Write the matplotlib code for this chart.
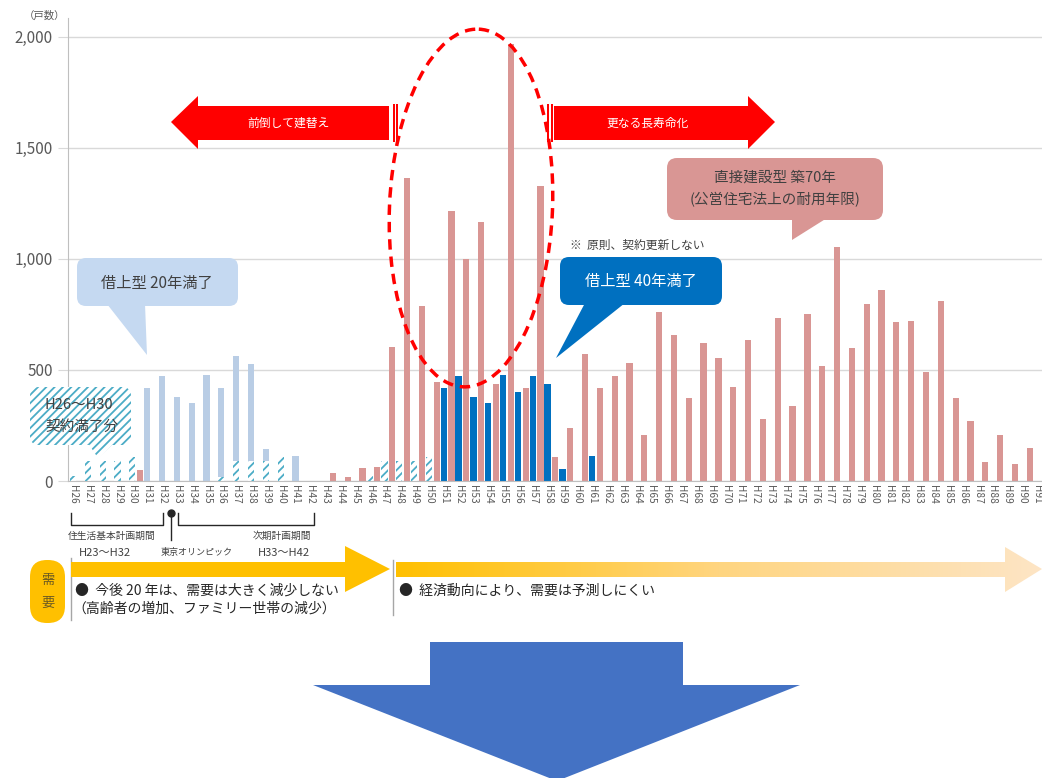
# -*- coding: utf-8 -*-
"""
Recreate the housing renewal chart (戸数 by year, H26-H91).
"""

import numpy as np
import matplotlib.pyplot as plt
from matplotlib.patches import Polygon, FancyBboxPatch, Ellipse, Rectangle
from matplotlib.colors import LinearSegmentedColormap

plt.rcParams['font.family'] = ['Noto Sans CJK JP', 'DejaVu Sans']
plt.rcParams['hatch.linewidth'] = 1.3

# ---- data (H26 .. H91) ----
years = ["H%d" % n for n in range(26, 92)]

# 契約満了分 (hatched)
expired = [22, 90, 90, 90, 108, 0, 0, 0, 0, 0,          # H26-H35
           20, 90, 90, 90, 108, 0, 0, 0, 0, 0,          # H36-H45
           22, 90, 90, 90, 108, 0, 0, 0, 0, 0,          # H46-H55
           0, 0, 0, 0, 0, 0, 0, 0, 0, 0,                # H56-H65
           0, 0, 0, 0, 0, 0, 0, 0, 0, 0,                # H66-H75
           0, 0, 0, 0, 0, 0, 0, 0, 0, 0,                # H76-H85
           0, 0, 0, 0, 0, 0]                            # H86-H91

# 借上型 20年満了 (light blue, on top of hatched)
lease20 = [0, 0, 0, 0, 0, 420, 475, 380, 352, 478,
           400, 475, 437, 54, 0, 113, 0, 0, 0, 0,
           0, 0, 0, 0, 0, 0, 0, 0, 0, 0,
           0, 0, 0, 0, 0, 0, 0, 0, 0, 0,
           0, 0, 0, 0, 0, 0, 0, 0, 0, 0,
           0, 0, 0, 0, 0, 0, 0, 0, 0, 0,
           0, 0, 0, 0, 0, 0]

# 借上型 40年満了 (dark blue)
lease40 = [0, 0, 0, 0, 0, 0, 0, 0, 0, 0,
           0, 0, 0, 0, 0, 0, 0, 0, 0, 0,
           0, 0, 0, 0, 0, 420, 475, 380, 352, 478,
           400, 475, 437, 52, 0, 113, 0, 0, 0, 0,
           0, 0, 0, 0, 0, 0, 0, 0, 0, 0,
           0, 0, 0, 0, 0, 0, 0, 0, 0, 0,
           0, 0, 0, 0, 0, 0]

# 直接建設型 築70年 (pink)
direct = [0, 0, 0, 0, 50, 0, 0, 0, 0, 0,
          0, 0, 0, 0, 0, 0, 0, 36, 18, 58,
          63, 604, 1363, 786, 447, 1217, 1000, 1167, 437, 1966,
          419, 1330, 107, 239, 572, 419, 473, 533, 205, 761,
          656, 376, 621, 554, 423, 633, 279, 732, 336, 752,
          518, 1054, 599, 797, 858, 716, 721, 491, 810, 372,
          270, 86, 205, 75, 149, 0]

yticks = [0, 500, 1000, 1500, 2000]
ytick_labels = ["0", "500", "1,000", "1,500", "2,000"]

W, H = 1042, 778
fig = plt.figure(figsize=(W / 100, H / 100), dpi=100)

# ---- bar chart ----
ax = fig.add_axes([68 / W, (H - 481) / H, 974 / W, 463 / H])
x = np.arange(len(years))
bw = 0.42
ax.bar(x - 0.25, expired, bw, color="white", edgecolor="#4BACC6",
       hatch="////", linewidth=0, zorder=2)
ax.bar(x - 0.25, lease20, bw, bottom=expired, color="#B9CDE5", zorder=2)
ax.bar(x - 0.25, lease40, bw, color="#0070C0", zorder=2)
ax.bar(x + 0.27, direct, bw, color="#D99694", zorder=2)

ax.set_xlim(-0.59, 65.09)
ax.set_ylim(0, 2085)
ax.set_xticks(x - 0.25, years, rotation=270, fontsize=7.3, color="#595959")
ax.tick_params(axis="x", length=0, pad=3)
ax.set_yticks(yticks, ytick_labels)
ax.tick_params(axis="y", length=7, color="#D9D9D9", labelsize=11,
               labelcolor="#595959", pad=4)
ax.grid(axis="y", color="#D9D9D9", lw=1)
ax.set_axisbelow(True)
for s in ["top", "right"]:
    ax.spines[s].set_visible(False)
ax.spines["left"].set_color("#BFBFBF")
ax.spines["bottom"].set_color("#BFBFBF")
ax.patch.set_alpha(0)

# ---- overlay in pixel coordinates ----
ov = fig.add_axes([0, 0, 1, 1], zorder=5)
ov.patch.set_alpha(0)
ov.axis("off")


def poly(pts, color, z=3):
    p = Polygon(pts, closed=True, fc=color, ec="none", zorder=z)
    ov.add_patch(p)
    return p


def rbox(x0, y0, x1, y1, r, **kw):
    b = FancyBboxPatch((x0, y0), x1 - x0, y1 - y0,
                       boxstyle="round,pad=0,rounding_size=%g" % r, **kw)
    ov.add_patch(b)
    return b


ov.text(45, 16, "（戸数）", fontsize=7.5, color="#595959", ha="center", va="center")

# red arrows
red = "#FF0000"
poly([(171, 122), (198, 96), (198, 106), (389, 106), (389, 140),
      (198, 140), (198, 149)], red)
ov.add_patch(Rectangle((392.5, 104), 2, 38, fc=red, ec="none", zorder=3))
ov.add_patch(Rectangle((396, 104), 2, 38, fc=red, ec="none", zorder=3))
ov.text(288, 123, "前倒して建替え", fontsize=8.5, color="white",
        ha="center", va="center", zorder=4)

ov.add_patch(Rectangle((547, 104), 2, 38, fc=red, ec="none", zorder=3))
ov.add_patch(Rectangle((550.5, 104), 2, 38, fc=red, ec="none", zorder=3))
poly([(554, 106), (748, 106), (748, 96), (775, 122), (748, 149),
      (748, 140), (554, 140)], red)
ov.text(648, 123, "更なる長寿命化", fontsize=8.5, color="white",
        ha="center", va="center", zorder=4)

# dashed ellipse
ov.add_patch(Ellipse((471, 208), 163, 358, angle=2.5, fill=False, ec=red,
                     lw=2.5, ls=(0, (3, 2)), zorder=6))

# callout: 借上型 20年満了
lb = "#C5D9F1"
rbox(77, 258, 238, 306, 9, fc=lb, ec="none", zorder=3)
poly([(107, 304), (145, 304), (147, 355)], lb)
ov.text(157, 283, "借上型 20年満了", fontsize=11, color="#404040",
        ha="center", va="center", zorder=4)

# callout: hatched H26~H30
rbox(30, 387, 131, 445, 9, fc="white", ec="#4BACC6", hatch="////",
     lw=0, zorder=3)
ov.add_patch(Polygon([(88, 443), (114, 443), (98, 458)], closed=True,
                     fc="white", ec="#4BACC6", hatch="////", lw=0, zorder=3))
ov.text(45, 405, "H26～H30", fontsize=10.5, color="#404040",
        ha="left", va="center", zorder=4)
ov.text(45, 427, "契約満了分", fontsize=10.5, color="#404040",
        ha="left", va="center", zorder=4)

# callout: 借上型 40年満了
db = "#0070C0"
ov.text(570, 245, "※  原則、契約更新しない", fontsize=8.5, color="#404040",
        ha="left", va="center", zorder=4)
rbox(560, 257, 722, 305, 9, fc=db, ec="none", zorder=3)
poly([(585, 303), (625, 303), (556, 358)], db)
ov.text(641, 281, "借上型 40年満了", fontsize=11, color="white",
        ha="center", va="center", zorder=4)

# callout: 直接建設型
pk = "#D99694"
rbox(667, 158, 883, 220, 10, fc=pk, ec="none", zorder=3)
poly([(792, 218), (827, 218), (792, 240)], pk)
ov.text(775, 178, "直接建設型 築70年", fontsize=10.5, color="#404040",
        ha="center", va="center", zorder=4)
ov.text(775, 200, "(公営住宅法上の耐用年限)", fontsize=10.5, color="#404040",
        ha="center", va="center", zorder=4)

# brackets under the axis
blk = "#262626"
ov.plot([71, 71, 163, 163], [513, 525, 525, 513], color=blk, lw=1)
ov.plot([178, 178, 314, 314], [513, 525, 525, 513], color=blk, lw=1)
ov.plot([171, 171], [513, 540], color=blk, lw=1)
ov.plot([171], [513], "o", color=blk, ms=5)
ov.text(112, 536, "住生活基本計画期間", fontsize=7, color="#404040",
        ha="center", va="center")
ov.text(105, 553, "H23～H32", fontsize=8, color="#404040",
        ha="center", va="center")
ov.text(197, 552, "東京オリンピック", fontsize=6.5, color="#404040",
        ha="center", va="center")
ov.text(282, 536, "次期計画期間", fontsize=7, color="#404040",
        ha="center", va="center")
ov.text(284, 553, "H33～H42", fontsize=8, color="#404040",
        ha="center", va="center")

# demand arrows
ov.plot([71, 71], [558, 620], color="#A6A6A6", lw=1)
ov.plot([393, 393], [560, 615], color="#A6A6A6", lw=1)
poly([(71, 562), (345, 562), (345, 546), (390, 569), (345, 592),
      (345, 577), (71, 577)], "#FFC000")

arrow2 = [(396, 562), (1005, 562), (1005, 547), (1042, 569), (1005, 592),
          (1005, 577), (396, 577)]
clip = poly(arrow2, "none")
cmap = LinearSegmentedColormap.from_list("fade", ["#FFC000", "#FFD580", "#FDE5C5"])
grad = np.linspace(0, 1, 256).reshape(1, -1)
im = ov.imshow(grad, cmap=cmap, extent=(396, 1042, 592, 547),
               aspect="auto", zorder=3)
im.set_clip_path(clip)

rbox(30, 560, 65, 623, 17, fc="#FFC000", ec="none", zorder=3)
ov.text(47.5, 580, "需", fontsize=9.5, color="#6B5A22", ha="center",
        va="center", zorder=4)
ov.text(47.5, 603, "要", fontsize=9.5, color="#6B5A22", ha="center",
        va="center", zorder=4)

ov.text(75, 591, "●  今後 20 年は、需要は大きく減少しない", fontsize=10,
        color="#262626", ha="left", va="center")
ov.text(72, 609, "（高齢者の増加、ファミリー世帯の減少）", fontsize=10,
        color="#262626", ha="left", va="center")
ov.text(399, 591, "●  経済動向により、需要は予測しにくい", fontsize=10,
        color="#262626", ha="left", va="center")

# big down arrow
poly([(430, 642), (683, 642), (683, 685), (800, 685), (557, 781),
      (313, 685), (430, 685)], "#4472C4")

ov.set_xlim(0, W)
ov.set_ylim(H, 0)

plt.savefig("out.png", dpi=100)
